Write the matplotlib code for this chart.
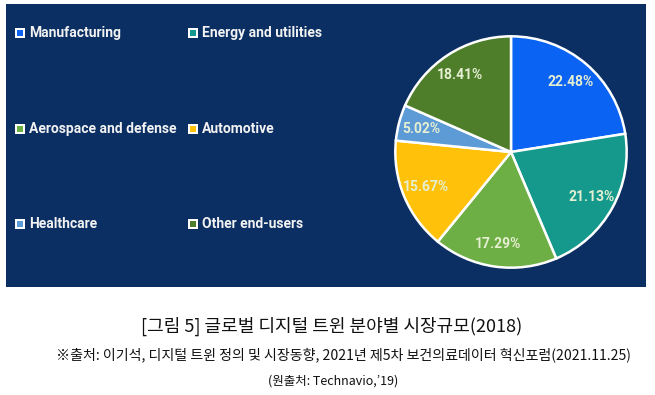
import matplotlib.pyplot as plt
from matplotlib.patches import Rectangle

categories = ['Manufacturing', 'Energy and utilities', 'Aerospace and defense',
              'Automotive', 'Healthcare', 'Other end-users']
shares = [22.48, 21.13, 17.29, 15.67, 5.02, 18.41]
colors = ['#0A63F2', '#15998C', '#6DAE45', '#FFC10A', '#5C9BD6', '#4F7E2B']

title = '[그림 5] 글로벌 디지털 트윈 분야별 시장규모(2018)'
source = '※출처: 이기석, 디지털 트윈 정의 및 시장동향, 2021년 제5차 보건의료데이터 혁신포럼(2021.11.25)'
origin = '(원출처: Technavio,’19)'

W, H = 655, 395
fig = plt.figure(figsize=(W / 100, H / 100), dpi=100)
fig.patch.set_facecolor('white')

narrow = ['Roboto', 'DejaVu Sans']
kr = ['Noto Sans CJK KR', 'DejaVu Sans']

# navy panel
fig.patches.append(Rectangle((6 / W, (H - 287) / H), 640 / W, 283 / H,
                             transform=fig.transFigure, facecolor='#0B2F63',
                             edgecolor='none', zorder=0))

# pie
cx, cy, r = 511, 152, 118
ax = fig.add_axes([(cx - r) / W, (H - cy - r) / H, 2 * r / W, 2 * r / H])
ax.set_zorder(5)
ax.patch.set_visible(False)
wedges, texts, autotexts = ax.pie(shares, colors=colors, startangle=90, counterclock=False,
                                  autopct='%.2f%%', pctdistance=0.8,
                                  wedgeprops=dict(edgecolor='white', linewidth=1.8))
for t in autotexts:
    t.set_color('#E6EFD2')
    t.set_fontsize(10)
    t.set_fontweight('bold')
    t.set_family(narrow)
ax.set_xlim(-1.02, 1.02)
ax.set_ylim(-1.02, 1.02)
ax.set_aspect('equal')
ax.axis('off')

# legend, 2 columns x 3 rows
col_x = [15, 188]
row_y = [33, 129, 224]
for i, (name, c) in enumerate(zip(categories, colors)):
    x = col_x[i % 2]
    y = row_y[i // 2]
    fig.patches.append(Rectangle((x / W, (H - y - 5) / H), 10 / W, 10 / H,
                                 transform=fig.transFigure, facecolor='white',
                                 edgecolor='none', zorder=2))
    fig.patches.append(Rectangle(((x + 2) / W, (H - y - 3) / H), 6 / W, 6 / H,
                                 transform=fig.transFigure, facecolor=c,
                                 edgecolor='none', zorder=3))
    fig.text((x + 14) / W, (H - y) / H, name, color='#F2F2F2', fontsize=10,
             fontweight='bold', family=narrow, va='center', ha='left')

# captions
fig.text(332 / W, (H - 326) / H, title, fontsize=13, family=kr, ha='center', va='center', color='#111111')
fig.text(343 / W, (H - 355) / H, source, fontsize=10.1, family=kr, ha='center', va='center', color='#111111')
fig.text(333 / W, (H - 381) / H, origin, fontsize=9, family=kr, ha='center', va='center', color='#111111')

fig.savefig('out.png', dpi=100)
